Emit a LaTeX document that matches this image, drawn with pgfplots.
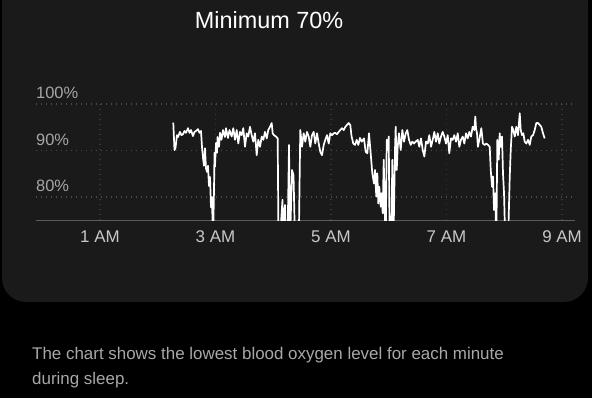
\documentclass[border=0pt]{standalone}
\usepackage{pgfplots}
\pgfplotsset{compat=1.18}
\usepackage{fontspec}
\setmainfont{Liberation Sans}
\definecolor{card}{HTML}{1A1A1A}
\definecolor{outer}{HTML}{000000}
\definecolor{gridh}{HTML}{4A4A4A}
\definecolor{gridv}{HTML}{353535}
\definecolor{basec}{HTML}{5C5C5C}
\definecolor{ylab}{HTML}{A6A6A6}
\definecolor{xlab}{HTML}{C8C8C8}
\definecolor{foot}{HTML}{A8A8A8}
\begin{document}
\begin{tikzpicture}[x=1bp,y=1bp]
\useasboundingbox (0,0) rectangle (592,398);
\clip (0,0) rectangle (592,398);
\fill[outer] (0,0) rectangle (592,398);
\fill[card, rounded corners=24bp] (2,96) rectangle (588,420);
\node[white, inner sep=0pt, font=\fontsize{23.5}{28}\selectfont] at (269,378) {Minimum 70\%};
\begin{axis}[at={(36bp,177.75bp)}, anchor=south west, scale only axis,
  width=539bp, height=116.25bp,
  xmin=-0.108, xmax=9.225, ymin=75, ymax=100,
  axis line style={draw=none},
  major tick length=0pt,
  xtick={1,3,5,7,9},
  xticklabels={1 AM,3 AM,5 AM,7 AM,9 AM},
  ytick={80,90,100},
  yticklabels={80\%,90\%,100\%},
  xmajorgrids, ymajorgrids,
  major x grid style={gridv, line width=1.2bp, dash pattern=on 1.2bp off 3.8bp},
  major y grid style={gridh, line width=1.2bp, dash pattern=on 1.2bp off 3.8bp},
  extra y ticks={75}, extra y tick labels={},
  extra y tick style={ymajorgrids=true, major y grid style={solid, basec, line width=1.3bp}},
  yticklabel style={anchor=south west, inner sep=0pt, text=ylab, font=\fontsize{16.5}{20}\selectfont, yshift=5bp},
  xticklabel style={anchor=north, inner sep=0pt, text=xlab, font=\fontsize{17}{20}\selectfont, yshift=-10bp},
]
\addplot[white, line width=1.7bp, line join=round, mark=none] table[x=h, y=v] {
h v
2.269 96.0
2.290 90.1
2.307 90.5
2.333 93.3
2.351 92.9
2.385 94.0
2.411 93.3
2.437 93.5
2.463 94.2
2.489 93.8
2.524 94.8
2.550 93.8
2.576 94.4
2.610 93.1
2.636 94.0
2.662 94.2
2.697 94.6
2.723 93.8
2.749 94.2
2.766 90.8
2.784 88.4
2.801 86.7
2.818 90.5
2.835 86.2
2.853 85.4
2.870 86.7
2.887 82.4
2.905 84.3
2.922 77.8
2.939 80.0
2.957 70.0
2.974 81.5
2.983 89.5
2.991 86.5
3.009 91.6
3.026 89.5
3.035 92.9
3.061 90.8
3.078 93.8
3.104 92.3
3.130 94.4
3.165 92.9
3.182 94.8
3.216 92.7
3.242 94.4
3.280 93.0
3.308 94.8
3.338 92.3
3.367 94.4
3.395 91.5
3.424 94.0
3.454 93.3
3.481 94.8
3.511 90.8
3.540 93.7
3.568 93.0
3.597 95.1
3.627 93.3
3.655 91.9
3.684 93.7
3.713 89.0
3.741 92.3
3.771 90.8
3.800 93.0
3.828 92.3
3.857 94.0
3.887 92.6
3.914 94.4
3.944 95.1
3.973 95.9
3.990 93.7
4.013 93.3
4.048 93.0
4.077 92.6
4.091 70.0
4.117 71.0
4.143 76.1
4.160 79.4
4.177 70.0
4.203 78.3
4.221 71.0
4.247 70.0
4.273 91.2
4.290 70.0
4.325 85.8
4.351 84.7
4.377 70.0
4.411 72.0
4.442 70.0
4.468 94.4
4.498 90.8
4.527 93.7
4.555 91.9
4.584 94.0
4.614 93.0
4.642 90.8
4.671 93.3
4.700 94.0
4.728 91.5
4.758 93.7
4.787 91.5
4.815 89.7
4.844 89.0
4.874 91.2
4.901 92.3
4.931 93.3
4.960 91.5
4.988 93.7
5.017 93.3
5.047 93.7
5.074 93.8
5.104 93.5
5.133 94.0
5.161 94.4
5.190 94.8
5.220 94.4
5.248 95.1
5.277 95.5
5.306 95.9
5.334 95.5
5.355 93.1
5.386 91.5
5.416 91.2
5.445 92.3
5.473 91.2
5.502 92.7
5.532 91.9
5.571 92.6
5.601 89.7
5.629 89.4
5.658 93.7
5.687 89.4
5.715 85.1
5.745 82.9
5.762 85.8
5.784 80.1
5.802 85.1
5.819 78.6
5.836 82.2
5.861 77.9
5.878 80.8
5.895 76.5
5.913 88.0
5.930 77.2
5.947 70.0
5.965 92.3
5.982 90.1
5.999 93.0
6.016 70.0
6.044 71.0
6.062 88.0
6.079 70.0
6.091 77.2
6.108 90.1
6.120 95.1
6.138 85.8
6.155 90.8
6.177 93.7
6.207 90.1
6.235 94.4
6.264 91.9
6.294 93.7
6.321 94.4
6.351 92.3
6.380 91.2
6.408 91.9
6.437 91.5
6.467 91.9
6.501 92.3
6.529 90.8
6.558 92.6
6.588 90.1
6.616 88.7
6.645 91.9
6.675 91.5
6.702 93.3
6.732 90.8
6.761 92.3
6.789 94.0
6.818 91.9
6.848 93.7
6.875 91.5
6.905 93.0
6.934 94.0
6.962 93.0
6.991 91.5
7.021 93.3
7.048 89.4
7.078 92.6
7.107 92.3
7.135 93.3
7.165 91.9
7.194 93.7
7.222 90.8
7.251 92.3
7.281 93.0
7.308 91.5
7.338 93.7
7.367 92.6
7.395 94.0
7.424 93.0
7.453 95.1
7.481 94.4
7.499 97.3
7.511 94.8
7.528 93.7
7.544 90.8
7.568 92.3
7.603 94.8
7.630 91.5
7.661 91.2
7.689 91.5
7.719 91.2
7.748 90.8
7.766 85.8
7.788 82.2
7.805 84.4
7.823 77.2
7.845 80.8
7.862 70.0
7.880 92.3
7.904 88.0
7.921 93.7
7.939 90.8
7.961 93.0
7.978 85.1
7.996 80.8
8.018 70.0
8.039 71.0
8.065 70.0
8.095 84.4
8.112 90.1
8.134 95.1
8.157 94.4
8.182 93.0
8.209 95.1
8.238 93.3
8.268 98.0
8.285 94.4
8.307 93.3
8.330 93.7
8.354 91.9
8.382 91.5
8.411 92.3
8.441 91.2
8.468 93.0
8.498 93.3
8.527 94.4
8.555 95.9
8.584 95.9
8.614 95.5
8.641 95.1
8.671 93.7
8.700 92.6
};
\end{axis}
\node[anchor=west, inner sep=0pt, text=foot, font=\fontsize{17}{21}\selectfont] at (32,43) {The chart shows the lowest blood oxygen level for each minute};
\node[anchor=west, inner sep=0pt, text=foot, font=\fontsize{17}{21}\selectfont] at (32,18) {during sleep.};
\end{tikzpicture}
\end{document}
